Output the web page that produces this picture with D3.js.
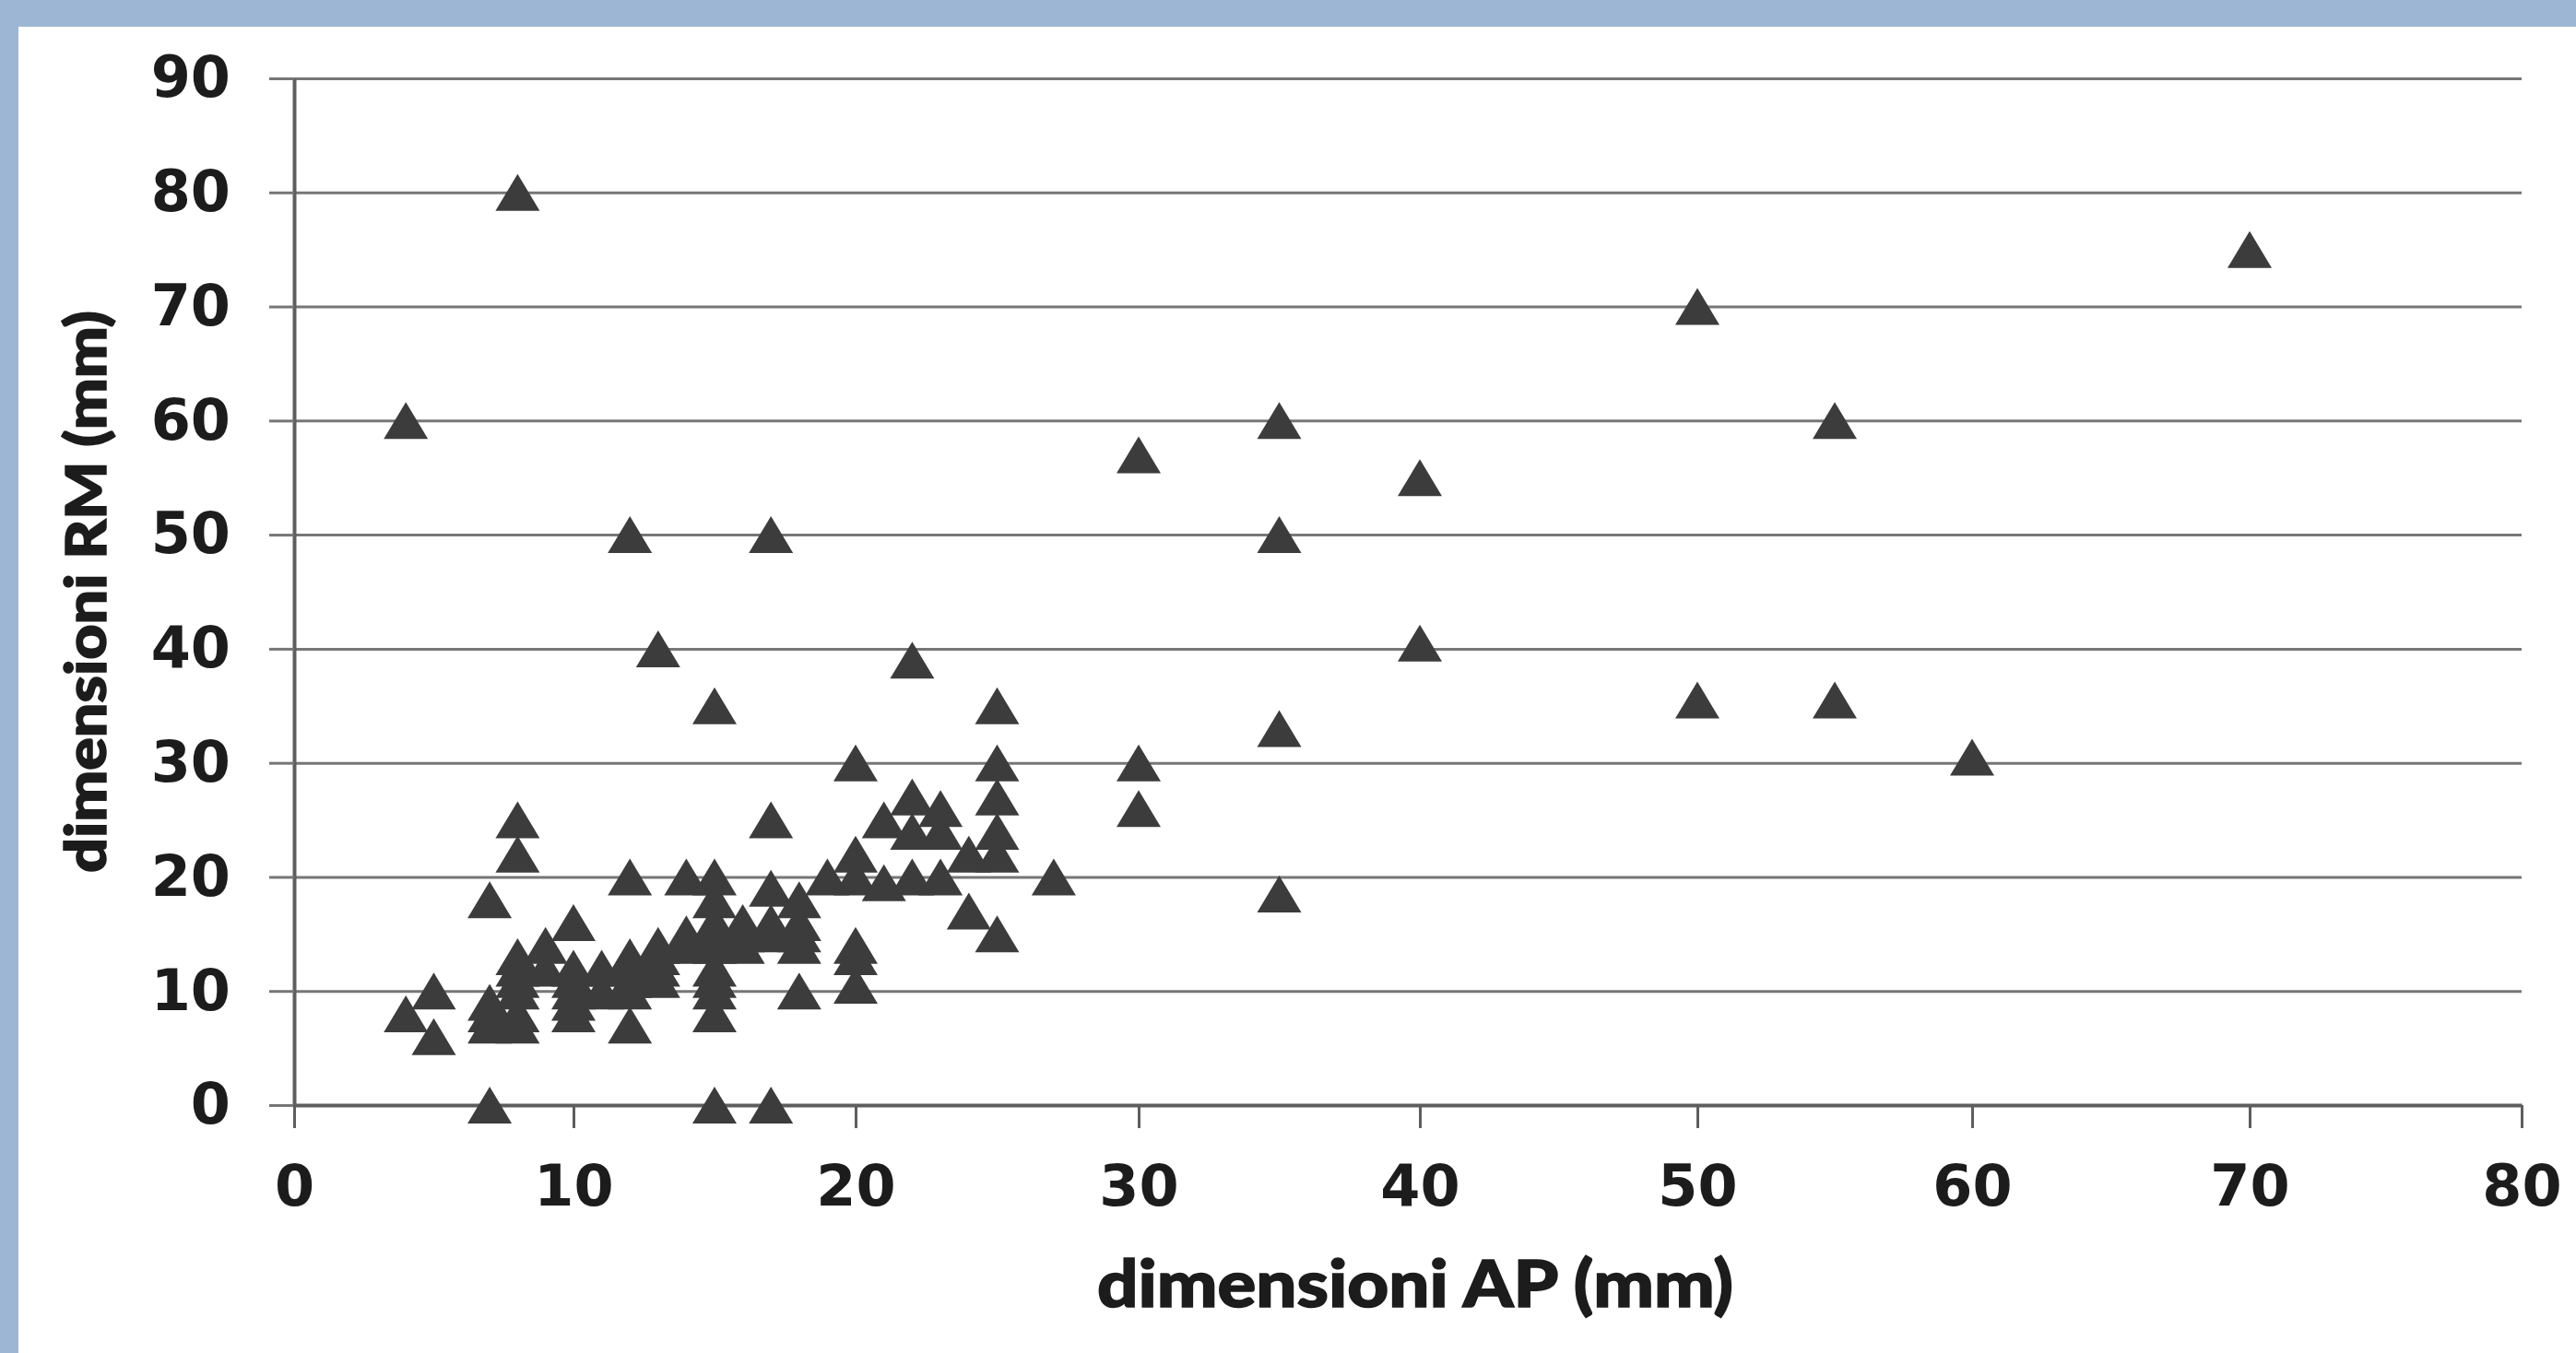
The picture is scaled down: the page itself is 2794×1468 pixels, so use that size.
<!DOCTYPE html>
<html>
<head>
<meta charset="utf-8">
<script src="https://cdn.jsdelivr.net/npm/d3@7"></script>
<style>
  html, body { margin: 0; padding: 0; background: #9db6d3; }
  svg { display: block; }
</style>
</head>
<body>
<svg id="chart" width="2794" height="1468"></svg>
<script>
// ---- data ----
const xTickValues = [0, 10, 20, 30, 40, 50, 60, 70, 80];
const yTickValues = [0, 10, 20, 30, 40, 50, 60, 70, 80, 90];
const xTitle = "dimensioni AP (mm)";
const yTitle = "dimensioni RM (mm)";

// dimensioni AP (mm)
const apValues = [
  4, 8, 12, 17, 13, 22, 15, 25, 30, 35, 35, 35, 35, 40, 40, 50, 50, 55, 55, 60, 70,
  30, 30, 20, 25, 25, 25, 25, 25, 27, 24, 24, 23, 23, 22, 22, 21, 22, 23, 21,
  20, 20, 19, 20, 20, 20, 18, 18, 18, 18, 18, 17, 17, 17, 16, 16,
  15, 15, 15, 15, 15, 15, 15, 15, 15, 14, 14, 13, 13, 13,
  12, 12, 12, 12, 12, 12, 11, 10, 10, 10, 10, 10, 10, 9, 9,
  8, 8, 8, 8, 8, 8, 8, 8, 7, 7, 7, 7, 5, 5, 4, 7, 15, 17,
  11, 13, 14, 16, 17
];
// dimensioni RM (mm)
const rmValues = [
  60, 80, 50, 50, 40, 39, 35, 35, 57, 60, 50, 33, 18.5, 55, 40.5, 70, 35.5, 60, 35.5, 30.5, 75,
  30, 26, 30, 30, 27, 24, 22, 15, 20, 17, 22, 26, 24, 27, 24, 25, 20, 20, 19.5,
  22, 20, 20, 14, 13, 10.5, 18, 16, 15, 14, 10, 25, 19, 15, 16, 15,
  20, 18, 16, 15, 14, 12, 11, 10, 8, 20, 15, 14, 12, 11,
  20, 13, 12, 11, 10, 7, 10, 16, 12, 11, 10, 9, 8, 14, 12,
  25, 22, 13, 12, 11, 10, 8, 7, 18, 9, 8, 7, 10, 6, 8, 0, 0, 0,
  12, 13, 14, 14, 16
];

const points = apValues.map((v, i) => ({ ap: v, rm: rmValues[i] }));

// ---- layout ----
const W = 2794, H = 1468;
const svg = d3.select("#chart");

// white panel inside the blue frame
svg.append("rect")
  .attr("x", 20).attr("y", 29)
  .attr("width", W - 20).attr("height", H - 29)
  .attr("fill", "#ffffff");

// the scanned original is slightly uneven horizontally: calibrate the scale on its tick marks
const xPixelStops = [319, 622, 928, 1235, 1540, 1841, 2139, 2440, 2735];
const x = d3.scaleLinear().domain(xTickValues).range(xPixelStops);
const y = d3.scaleLinear().domain([0, 90]).range([1199, 85]);
const x0 = x(0), x1 = x(80);

const gridColor = "#767676";
const axisColor = "#5e5e5e";
const textColor = "#1c1c1c";
const tickFont = "'DejaVu Sans', sans-serif";
const titleFont = "Lato, 'Open Sans', sans-serif";

// gridlines
const grid = svg.append("g")
  .attr("transform", `translate(${x0},0)`)
  .call(d3.axisLeft(y).tickValues(yTickValues).tickSize(-(x1 - x0)).tickFormat(""));
grid.select(".domain").remove();
grid.selectAll(".tick line").attr("stroke", gridColor).attr("stroke-width", 3);

// y axis
const yAxis = svg.append("g")
  .attr("transform", `translate(${x0},0)`)
  .call(d3.axisLeft(y).tickValues(yTickValues).tickSize(27).tickSizeOuter(0).tickPadding(42));
yAxis.select(".domain").attr("stroke", axisColor).attr("stroke-width", 4);
yAxis.selectAll(".tick line").attr("stroke", gridColor).attr("stroke-width", 3);
yAxis.selectAll(".tick text")
  .attr("fill", textColor)
  .style("font-family", tickFont).style("font-weight", "bold").style("font-size", "62px");

// x axis
const xAxis = svg.append("g")
  .attr("transform", `translate(0,${y(0)})`)
  .call(d3.axisBottom(x).tickValues(xTickValues).tickSize(25).tickSizeOuter(0).tickPadding(40));
xAxis.select(".domain").attr("stroke", axisColor).attr("stroke-width", 4);
xAxis.selectAll(".tick line").attr("stroke", axisColor).attr("stroke-width", 3);
xAxis.selectAll(".tick text")
  .attr("fill", textColor)
  .style("font-family", tickFont).style("font-weight", "bold").style("font-size", "62px");

// axis titles
svg.append("text")
  .attr("x", 1535)
  .attr("y", 1393)
  .attr("dy", "0.36em")
  .attr("text-anchor", "middle")
  .attr("textLength", 690)
  .attr("lengthAdjust", "spacingAndGlyphs")
  .attr("fill", textColor)
  .attr("stroke", textColor)
  .attr("stroke-width", 1.5)
  .style("font-family", titleFont)
  .style("font-weight", "900")
  .style("font-size", "70px")
  .text(xTitle);

svg.append("text")
  .attr("transform", `translate(93,${(y(0) + y(90)) / 2})rotate(-90)`)
  .attr("dy", "0.36em")
  .attr("text-anchor", "middle")
  .attr("textLength", 610)
  .attr("lengthAdjust", "spacingAndGlyphs")
  .attr("fill", textColor)
  .attr("stroke", textColor)
  .attr("stroke-width", 1.5)
  .style("font-family", titleFont)
  .style("font-weight", "900")
  .style("font-size", "60px")
  .text(yTitle);

// triangle marker whose bounding box is centred on the data point
const triW = 48, triH = 40;
const centeredTriangle = {
  draw(context, size) {
    const k = Math.sqrt(size / (triW * triH / 2));
    const w = triW * k / 2, h = triH * k / 2;
    context.moveTo(0, -h);
    context.lineTo(w, h);
    context.lineTo(-w, h);
    context.closePath();
  }
};

svg.append("g")
  .selectAll("path")
  .data(points)
  .join("path")
  .attr("transform", d => `translate(${x(d.ap)},${y(d.rm)})`)
  .attr("d", d3.symbol().type(centeredTriangle).size(triW * triH / 2))
  .attr("fill", "#3c3c3c");
</script>
</body>
</html>
